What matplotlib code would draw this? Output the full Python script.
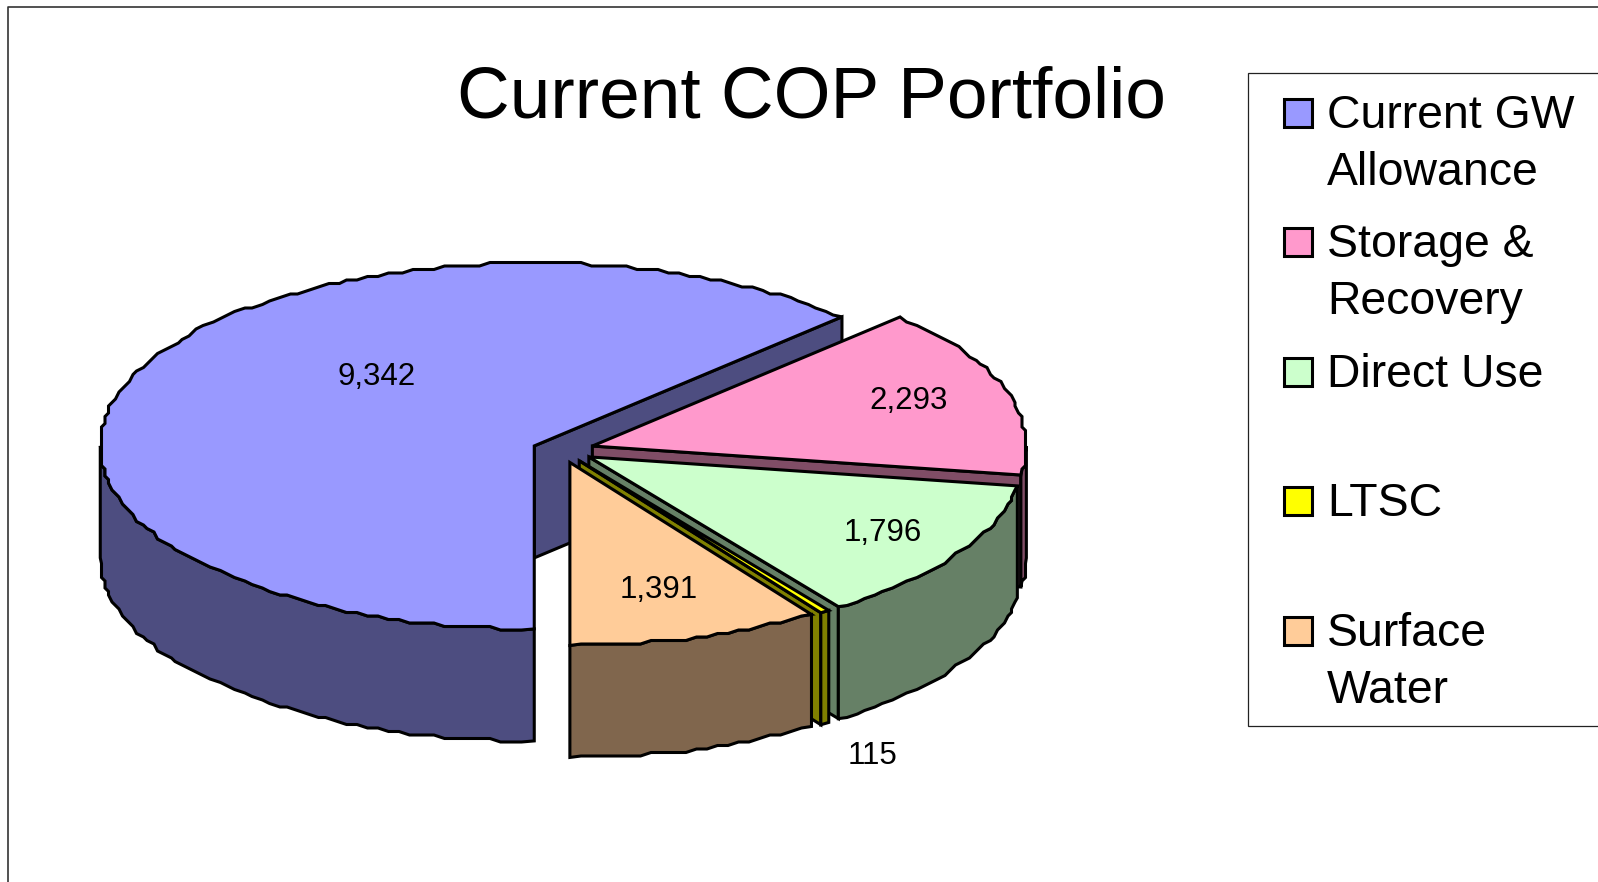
import numpy as np
import matplotlib
matplotlib.use("Agg")
import matplotlib.pyplot as plt
from matplotlib.patches import Polygon, Rectangle

plt.rcParams['font.family'] = ['Liberation Sans', 'DejaVu Sans']

#chart data
title = "Current COP Portfolio"
categories = ["Current GW\nAllowance", "Storage &\nRecovery", "Direct Use", "LTSC", "Surface\nWater"]
values = [9342, 2293, 1796, 115, 1391]
value_labels = ["9,342", "2,293", "1,796", "115", "1,391"]
colors = ["#9999FF", "#FF99CC", "#CCFFCC", "#FFFF00", "#FFCC99"]
dark_colors = ["#4D4D80", "#804D66", "#668066", "#808000", "#80664D"]
explode = [0.82, 1, 1, 1, 1]

#where the value labels sit, in pixels
label_pos = [(377, 377), (909, 401), (883, 533), (872, 756), (659, 590)]

#the reference projection bends the slice edges a little, degrees
edge_nudge = [0, -1.3, 1.2, -0.3, 0]

#pie geometry, in pixels of the final image
cx, cy = 560, 450
rx, ry = 434, 183
depth = 112
ex, ey = 34, 13
start_angle = 180   #clockwise from 12 o'clock
snap = 3.5          #the reference rim is coarse and wobbly
lw = 2.2


def rim(ox, oy, a1, a2):
    #points along the top rim, clockwise angles in degrees
    n = max(2, int(abs(a2 - a1) / 1.5) + 1)
    a = np.radians(np.linspace(a1, a2, n))
    x = ox + rx * np.sin(a)
    y = oy - ry * np.cos(a)
    x[1:-1] = np.round(x[1:-1] / snap) * snap
    y[1:-1] = np.round(y[1:-1] / snap) * snap
    return np.column_stack([x, y])


def face(ax, pts, color):
    ax.add_patch(Polygon(pts, closed=True, facecolor=color, edgecolor="black",
                         linewidth=lw, joinstyle="miter"))


fig = plt.figure(figsize=(15.98, 8.82), dpi=100, facecolor="white")
ax = fig.add_axes([0, 0, 1, 1])
ax.set_xlim(0, 1598)
ax.set_ylim(882, 0)
ax.axis("off")

#outer frame, only left and top are on the picture
ax.plot([8, 8, 1598], [882, 7, 7], color="#333333", linewidth=1.2)

#slices back to front
sweeps = 360 * np.array(values) / sum(values)
angle = start_angle
nudge = 0
for i in range(len(values)):
    a1 = angle + nudge
    a2 = angle + sweeps[i] + edge_nudge[i]
    nudge = edge_nudge[i]
    angle = (angle + sweeps[i]) % 360
    mid = np.radians((a1 + a2) / 2)
    ox = cx + explode[i] * ex * np.sin(mid)
    oy = cy - explode[i] * ey * np.cos(mid)

    #cut face on the trailing edge
    end = rim(ox, oy, a2, a2)[0]
    face(ax, [(ox, oy), end, end + [0, depth], (ox, oy + depth)], dark_colors[i])

    #outer wall, only the front half of the ellipse
    w1, w2 = max(a1, 90), min(a2, 270)
    if w2 > w1:
        top = rim(ox, oy, w1, w2)
        face(ax, np.vstack([top, (top + [0, depth])[::-1]]), dark_colors[i])

    #top face
    face(ax, np.vstack([[(ox, oy)], rim(ox, oy, a1, a2)]), colors[i])

    ax.text(label_pos[i][0], label_pos[i][1], value_labels[i], fontsize=22.5,
            ha="center", va="center", color="black")

ax.text(811, 117, title, fontsize=52.6, ha="center", va="baseline", color="black")

#legend
ax.add_patch(Rectangle((1248, 73), 360, 653, facecolor="white", edgecolor="#222222", linewidth=0.9))
for i, name in enumerate(categories):
    yc = 113 + 129.4 * i
    ax.add_patch(Rectangle((1283.5, yc - 14), 28, 28, facecolor=colors[i],
                           edgecolor="black", linewidth=lw))
    for j, line in enumerate(name.split("\n")):
        ax.text(1327, yc - 2 + 57 * j, line, fontsize=33.4, ha="left", va="center_baseline", color="black")

fig.savefig("out.png", dpi=100, facecolor="white")
